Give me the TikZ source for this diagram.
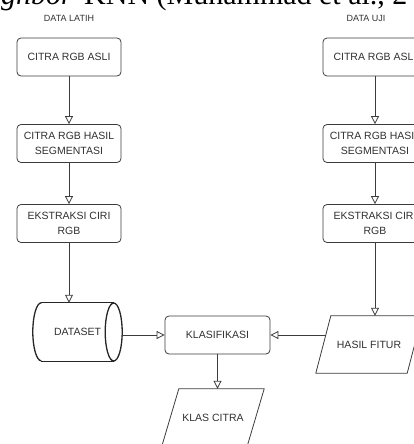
\documentclass[tikz,border=0pt]{standalone}
\usepackage{fontspec}
\setmainfont{Liberation Sans}
\newfontfamily\titlefont{Liberation Serif}
\usetikzlibrary{arrows.meta,calc}
\definecolor{linec}{HTML}{3C3C3C}
\definecolor{textc}{HTML}{303030}
\tikzset{
  box/.style={draw=linec, line width=0.8pt, rounded corners=4pt, minimum width=104pt, minimum height=38pt,
    align=center, text=textc, font=\fontsize{10.5}{15}\selectfont, inner sep=0pt},
  plain/.style={text=textc, font=\fontsize{10.5}{15}\selectfont, inner sep=0pt, align=center},
  arr/.style={draw=linec, line width=0.8pt, -{Triangle[open, length=8pt, width=8pt]}},
  shapeline/.style={draw=linec, line width=0.8pt},
  cyl/.style={draw=black!85, line width=1.3pt},
  title/.style={font=\titlefont\fontsize{30}{30}\selectfont, inner sep=0pt, text=black}
}
\begin{document}
\begin{tikzpicture}[x=1pt, y=-1pt]
\useasboundingbox (0,0) rectangle (414,444);
\clip (0,0) rectangle (414,444);

% cropped page text at the top
\node[title, anchor=base east] (t1) at (73,5) {\itshape gnbor};
\node[title, anchor=base west] (t2) at (84,5) {KNN (Muhammad et al., 2};

% column headers
\node[plain, font=\fontsize{9}{11}\selectfont] (hl) at (69,18) {DATA LATIH};
\node[plain, font=\fontsize{9}{11}\selectfont] (hr) at (366,18) {DATA UJI};

% left column
\node[box] (l1) at (69,57) {CITRA RGB ASLI};
\node[box] (l2) at (69,143.5) {CITRA RGB HASIL\\SEGMENTASI};
\node[box] (l3) at (69,223.5) {EKSTRAKSI CIRI\\RGB};

% right column
\node[box] (r1) at (375,57) {CITRA RGB ASLI};
\node[box] (r2) at (375,143.5) {CITRA RGB HASIL\\SEGMENTASI};
\node[box] (r3) at (375,223.5) {EKSTRAKSI CIRI\\RGB};

% dataset cylinder
\node[plain, minimum width=89pt, minimum height=58pt] (ds) at (77.5,332) {DATASET};
\draw[cyl] ($(ds.north west)+(8.5,0)$) -- ($(ds.north east)-(8.5,0)$);
\draw[cyl] ($(ds.south west)+(8.5,0)$) -- ($(ds.south east)-(8.5,0)$);
\draw[cyl] ($(ds.north west)+(8.5,0)$) arc[start angle=90, end angle=270, x radius=8.5, y radius=-29];
\draw[cyl] ($(ds.east)-(8.5,0)$) ellipse[x radius=8.5, y radius=29];

% klasifikasi
\node[box, minimum width=105pt] (kl) at (217.5,335) {KLASIFIKASI};

% hasil fitur parallelogram
\node[plain, minimum width=106pt, minimum height=57pt] (hf) at (369,344.5) {HASIL FITUR};
\draw[shapeline] ($(hf.north west)+(15,0)$) -- (hf.north east) -- ($(hf.south east)-(15,0)$) -- (hf.south west) -- cycle;
\coordinate (hfin) at ($(hf.west)+(10,-9.5)$);

% klas citra parallelogram
\node[plain, minimum width=102pt, minimum height=57pt] (kc) at (213,417.5) {KLAS CITRA};
\draw[shapeline] ($(kc.north west)+(17,0)$) -- (kc.north east) -- ($(kc.south east)-(17,0)$) -- (kc.south west) -- cycle;

% connectors
\draw[arr] (l1.south) -- (l2.north);
\draw[arr] (l2.south) -- (l3.north);
\draw[arr] (l3.south) -- (l3.south |- ds.north);
\draw[arr] (r1.south) -- (r2.north);
\draw[arr] (r2.south) -- (r3.north);
\draw[arr] (r3.south) -- (r3.south |- hf.north);
\draw[arr] (ds.east |- kl.west) -- (kl.west);
\draw[arr] (hfin) -- (hfin -| kl.east);
\draw[arr] (kl.south) -- (kl.south |- kc.north);
\end{tikzpicture}
\end{document}
